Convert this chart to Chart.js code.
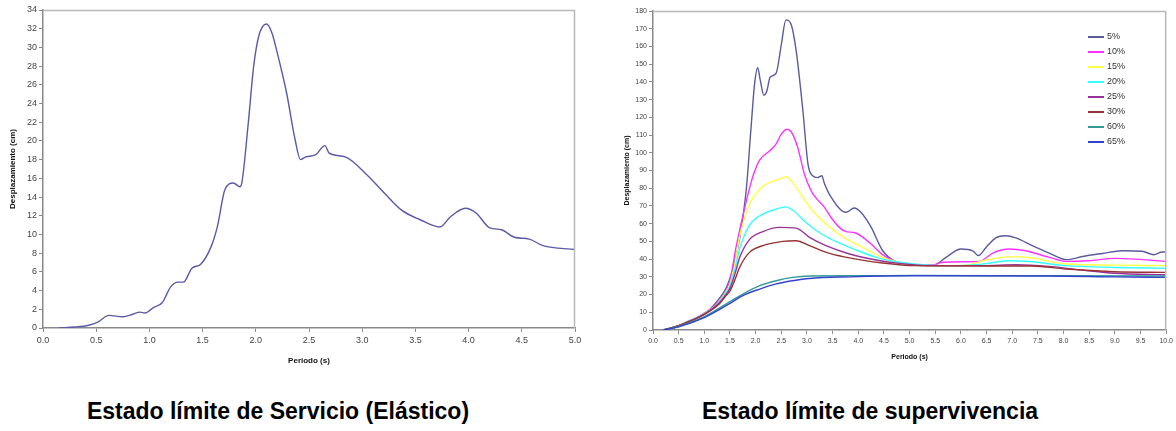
<!DOCTYPE html>
<html>
<head>
<meta charset="utf-8">
<script src="https://cdn.jsdelivr.net/npm/chart.js@4.4.0/dist/chart.umd.min.js"></script>
<style>
  html, body { margin:0; padding:0; background:#fff; }
  body { width:1176px; height:431px; position:relative; overflow:hidden; font-family:"Liberation Sans", Arial, sans-serif; }
  .box { position:absolute; top:0; }
  .cap { position:absolute; top:398px; font-weight:bold; font-size:23px; line-height:26px; color:#000; white-space:nowrap; transform:translateX(-50%); }
  #legend { position:absolute; left:1088px; top:29px; font-size:9px; color:#333; }
  #legend .row { height:15px; line-height:15px; display:flex; align-items:center; }
  #legend .ln { width:16px; height:2px; margin-right:3px; }
</style>
</head>
<body>
<div class="box" style="left:0;width:590px;height:372px;"><canvas id="c1" width="590" height="372"></canvas></div>
<div class="box" style="left:595px;width:581px;height:372px;"><canvas id="c2" width="581" height="372"></canvas></div>
<div id="legend"></div>
<div class="cap" id="cap1" style="left:278px;"></div>
<div class="cap" id="cap2" style="left:870px;"></div>
<script>
// ---- Text ----
const caption1 = "Estado límite de Servicio (Elástico)";
const caption2 = "Estado límite de supervivencia";
const xTitle = "Periodo (s)";
const yTitle = "Desplazamiento (cm)";

// ---- Left chart data (Periodo s, Desplazamiento cm) ----
const periodL = [0.15,0.3,0.43,0.51,0.62,0.75,0.85,0.91,0.96,1.04,1.12,1.2,1.27,1.32,1.4,1.48,1.58,1.64,1.71,1.79,1.85,1.87,1.93,1.98,2.03,2.1,2.15,2.2,2.29,2.37,2.42,2.47,2.56,2.65,2.69,2.84,3.05,3.21,3.37,3.54,3.73,3.83,3.97,4.07,4.2,4.31,4.43,4.57,4.7,5.0];
const despL   = [0,0.1,0.3,0.6,1.35,1.2,1.5,1.7,1.6,2.2,2.7,4.4,4.9,4.9,6.4,6.8,8.7,10.9,14.8,15.5,15.1,15.6,22,28,31.3,32.5,31.6,29.5,25.1,20.1,18.0,18.3,18.5,19.5,18.7,18.3,16.3,14.4,12.6,11.6,10.8,11.9,12.8,12.3,10.7,10.5,9.7,9.5,8.8,8.4];

// ---- Right chart data ----
const seriesNames = ["5%","10%","15%","20%","25%","30%","60%","65%"];
const seriesColors = ["#5a5a9e","#ff33ff","#ffff44","#33ffff","#993399","#993333","#339999","#3344cc"];

const p5  = [0.2,0.5,0.71,1.0,1.23,1.43,1.56,1.69,1.82,1.91,1.98,2.04,2.09,2.16,2.22,2.28,2.4,2.5,2.59,2.69,2.79,2.92,3.02,3.11,3.21,3.29,3.34,3.47,3.76,3.92,4.05,4.25,4.47,4.7,4.99,5.25,5.48,5.71,6.0,6.23,6.34,6.49,6.68,6.87,7.07,7.39,7.72,8.07,8.37,8.76,9.14,9.53,9.76,9.92,10.0];
const d5  = [0,2.4,5.3,9,15.6,24,35,52,80,114,139,148,141,132.5,135,142.5,145,161,175,172.5,157.5,124,93.6,87,86,87,82.7,75,66.4,68.8,66.4,58,45,39,37.2,36.3,36.7,41,45.7,44.7,42,46.6,52,53.2,52,47.6,43.4,39.7,41.5,43.2,44.7,44.4,42.5,44,44];
const p10 = [0.2,0.5,1.0,1.3,1.4,1.5,1.62,1.82,1.95,2.08,2.27,2.4,2.5,2.61,2.69,2.82,2.95,3.08,3.18,3.34,3.47,3.63,3.76,3.92,4.09,4.25,4.47,4.7,4.99,5.45,5.64,6.1,6.36,6.62,6.94,7.26,7.72,8.07,8.49,9.0,9.4,10.0];
const d10 = [0,2.5,9.5,16.5,21,28,47,73,87,96,101,105,110.5,113.3,112,103,88,78.6,74.4,69.2,63.5,57.9,55.5,55,52.3,48.5,42.5,39,37.2,36.8,38.2,38.5,38.7,43.4,45.7,44.7,41,38.7,39.1,40.4,40,38.7];
const p15 = [0.2,0.5,1.0,1.3,1.4,1.5,1.6,1.69,1.88,2.08,2.27,2.46,2.59,2.72,2.92,3.11,3.37,3.63,3.89,4.15,4.47,4.8,5.12,5.58,6.1,6.49,7.0,7.39,8.04,9.0,10.0];
const d15 = [0,2.5,9.3,16,20.5,26,38,53,71,79.5,83.3,85,86.5,83.3,74.8,67.3,59.8,54,49.4,45.7,41,38.2,36.8,36.3,36.6,39.5,41.4,40.6,37.2,36.6,36.3];
const p20 = [0.2,0.5,1.0,1.3,1.4,1.5,1.6,1.69,1.88,2.14,2.4,2.58,2.72,2.98,3.24,3.57,3.96,4.35,4.73,5.12,5.77,6.42,6.94,7.39,8.04,9.0,10.0];
const d20 = [0,2.5,9.2,15.8,20,25,35,46,59,65.4,68.2,69.5,67.7,60.7,55,49.8,45.1,41,38.5,37.2,36.3,37.2,39.1,38.5,36.3,35.3,34.8];
const p25 = [0.2,0.5,1.0,1.3,1.4,1.5,1.6,1.69,1.88,2.14,2.46,2.79,3.05,3.37,3.83,4.35,4.8,5.45,6.42,7.07,7.72,8.37,9.0,10.0];
const d25 = [0,2.5,9,15.5,19.2,23.5,32,41,51,55.5,57.9,57.5,52.3,47.6,42.9,39.5,37.6,36.3,36.3,36.8,35.9,33.8,32,31.2];
const p30 = [0.2,0.5,1.0,1.3,1.4,1.5,1.6,1.69,1.88,2.14,2.53,2.79,3.05,3.44,3.96,4.47,5.12,6.42,7.39,8.04,9.0,10.0];
const d30 = [0,2.4,8.8,15,18.6,22,28.6,35.5,43.8,47.6,50,50.4,47.6,43.2,40,37.8,36.3,36.1,36.1,34.4,32.9,32.5];
const p60 = [0.2,0.5,1.0,1.5,1.75,2.08,2.4,2.72,3.05,3.83,5.12,7.72,10.0];
const d60 = [0,2,7.5,16,20.3,25,27.8,29.7,30.5,30.6,30.8,30.6,30.5];
const p65 = [0.2,0.5,1.0,1.5,1.75,2.08,2.4,2.72,3.05,3.83,5.12,7.72,9.0,10.0];
const d65 = [0,1.8,7,15,19.4,23.1,26,27.8,29.1,30,30.6,30.5,30,29.7];

const seriesPeriods = [p5,p10,p15,p20,p25,p30,p60,p65];
const seriesValues  = [d5,d10,d15,d20,d25,d30,d60,d65];

// ---- helpers ----
const toXY = (xs, ys) => xs.map((x, i) => ({x, y: ys[i]}));
Chart.defaults.font.family = "'Liberation Sans', Arial, sans-serif";
Chart.defaults.color = "#333";

const frame = {
  id: 'frame',
  afterDraw(chart) {
    const a = chart.chartArea, ctx = chart.ctx;
    ctx.save();
    ctx.strokeStyle = '#b8b8b8';
    ctx.lineWidth = 1.5;
    ctx.beginPath();
    ctx.moveTo(a.left, a.top + 0.5);
    ctx.lineTo(a.right - 0.5, a.top + 0.5);
    ctx.lineTo(a.right - 0.5, a.bottom);
    ctx.stroke();
    ctx.restore();
  }
};

function makeOptions(cfg) {
  return {
    responsive: false,
    animation: false,
    devicePixelRatio: 1,
    layout: { padding: { top: cfg.top, right: cfg.right, left: cfg.left, bottom: cfg.bottom } },
    plugins: { legend: { display: false }, tooltip: { enabled: false } },
    elements: { point: { radius: 0 }, line: { borderWidth: 1.4, cubicInterpolationMode: 'monotone' } },
    scales: {
      x: {
        type: 'linear', min: 0, max: cfg.xmax,
        afterFit: s => { s.height = cfg.xh; },
        afterBuildTicks: s => { s.ticks = cfg.xticks.map(v => ({value: v})); },
        border: { color: '#8a8a8a', width: 1.5 },
        grid: { drawOnChartArea: false, tickLength: 4, color: '#8a8a8a' },
        ticks: { font: { size: cfg.tickSize }, color: '#444', maxRotation: 0, autoSkip: false, padding: 3,
                 callback: v => Number(v).toFixed(1) },
        title: { display: true, text: xTitle, font: { size: cfg.titleSize, weight: 'bold' }, color: '#111', padding: { top: 2, bottom: 0 } }
      },
      y: {
        min: 0, max: cfg.ymax,
        afterFit: s => { s.width = cfg.yw; },
        afterBuildTicks: s => { s.ticks = cfg.yticks.map(v => ({value: v})); },
        border: { color: '#8a8a8a', width: 1.5 },
        grid: { drawOnChartArea: false, tickLength: 4, color: '#8a8a8a' },
        ticks: { font: { size: cfg.tickSize }, color: '#444', autoSkip: false, padding: 2 },
        title: { display: true, text: yTitle, font: { size: cfg.titleSize, weight: 'bold' }, color: '#111', padding: 0 }
      }
    }
  };
}

const xTicksL = [0,0.5,1,1.5,2,2.5,3,3.5,4,4.5,5];
const yTicksL = [0,2,4,6,8,10,12,14,16,18,20,22,24,26,28,30,32,34];
const xTicksR = [0,0.5,1,1.5,2,2.5,3,3.5,4,4.5,5,5.5,6,6.5,7,7.5,8,8.5,9,9.5,10];
const yTicksR = [0,10,20,30,40,50,60,70,80,90,100,110,120,130,140,150,160,170,180];

new Chart(document.getElementById('c1'), {
  type: 'scatter',
  data: { datasets: [{ data: toXY(periodL, despL), showLine: true, borderColor: '#5a5aa6', borderWidth: 1.4 }] },
  options: makeOptions({ top: 10, right: 15, left: 8, bottom: 6, xh: 38, yw: 35, xmax: 5, ymax: 34, xticks: xTicksL, yticks: yTicksL, tickSize: 9, titleSize: 8 }),
  plugins: [frame]
});

new Chart(document.getElementById('c2'), {
  type: 'scatter',
  data: { datasets: seriesNames.map((n, i) => ({
    label: n, data: toXY(seriesPeriods[i], seriesValues[i]), showLine: true,
    borderColor: seriesColors[i], borderWidth: 1.4
  })).reverse() },
  options: makeOptions({ top: 11, right: 9, left: 28, bottom: 11, xh: 31, yw: 30, xmax: 10, ymax: 180, xticks: xTicksR, yticks: yTicksR, tickSize: 7, titleSize: 7 }),
  plugins: [frame]
});

// legend
const lg = document.getElementById('legend');
seriesNames.forEach((n, i) => {
  const r = document.createElement('div'); r.className = 'row';
  const l = document.createElement('span'); l.className = 'ln'; l.style.background = seriesColors[i];
  const t = document.createElement('span'); t.textContent = n;
  r.appendChild(l); r.appendChild(t); lg.appendChild(r);
});
document.getElementById('cap1').textContent = caption1;
document.getElementById('cap2').textContent = caption2;
</script>
</body>
</html>
